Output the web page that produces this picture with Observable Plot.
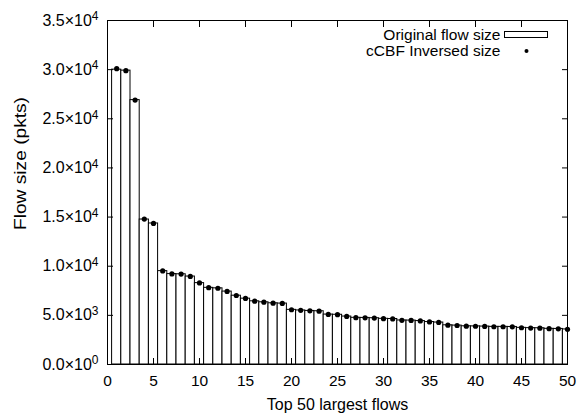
<!DOCTYPE html>
<html>
<head>
<meta charset="utf-8">
<script src="https://cdn.jsdelivr.net/npm/d3@7"></script>
<script src="https://cdn.jsdelivr.net/npm/@observablehq/plot@0.6"></script>
<style>
  body { margin: 0; background: #fff; }
  svg { display: block; }
</style>
</head>
<body>
<div id="chart"></div>
<script>
// Flow rank (1 = largest)
const flowRank = [1,2,3,4,5,6,7,8,9,10,11,12,13,14,15,16,17,18,19,20,21,22,23,24,25,26,27,28,29,30,31,32,33,34,35,36,37,38,39,40,41,42,43,44,45,46,47,48,49,50];
// Original flow size (pkts)
const originalSize = [30000,29900,26900,14750,14350,9500,9200,9180,8950,8280,7800,7750,7420,7000,6700,6430,6330,6230,6200,5560,5500,5450,5420,5080,5060,4880,4750,4740,4710,4650,4630,4480,4470,4420,4320,4270,3990,3960,3890,3880,3860,3830,3830,3820,3730,3700,3690,3630,3620,3570];
// cCBF inversed size (pkts)
const inversedSize = [30100,29900,26900,14800,14350,9520,9220,9200,8960,8300,7820,7760,7440,7020,6720,6440,6340,6240,6210,5570,5510,5460,5430,5090,5070,4890,4760,4750,4720,4660,4640,4490,4480,4430,4330,4280,4000,3970,3900,3890,3870,3840,3840,3830,3740,3710,3700,3640,3630,3580];

const xTicks = [0,5,10,15,20,25,30,35,40,45,50];
const yTicks = [0,5000,10000,15000,20000,25000,30000,35000];
const yTickLabels = ["0.0×10^0","5.0×10^3","1.0×10^4","1.5×10^4","2.0×10^4","2.5×10^4","3.0×10^4","3.5×10^4"];

const xLabel = "Top 50 largest flows";
const yLabel = "Flow size (pkts)";
const legendLabels = ["Original flow size", "cCBF Inversed size"];

const rows = flowRank.map((r, i) => ({rank: r, original: originalSize[i], inversed: inversedSize[i]}));

const FONT = "'Liberation Sans', Arial, Helvetica, sans-serif";

const chart = Plot.plot({
  width: 587,
  height: 413,
  marginLeft: 107,
  marginRight: 20,
  marginTop: 20,
  marginBottom: 49,
  style: {fontFamily: FONT, fontSize: "15px", color: "black", background: "white"},
  x: {domain: [0, 50]},
  y: {domain: [0, 35000]},
  marks: [
    Plot.rectY(rows, {x1: d => d.rank - 0.5, x2: d => d.rank + 0.5, y: "original", fill: "white", stroke: "black", strokeWidth: 1, clip: true}),
    Plot.dot(rows, {x: "rank", y: "inversed", r: 2.6, fill: "black", stroke: null}),
    Plot.frame({stroke: "black", strokeWidth: 1}),
    // inward tick marks on all four sides
    Plot.axisX({ticks: xTicks, anchor: "bottom", tickSize: 6, dy: -6, tickFormat: () => "", label: null}),
    Plot.axisX({ticks: xTicks, anchor: "top", tickSize: 6, dy: 6, tickFormat: () => "", label: null}),
    Plot.axisY({ticks: yTicks, anchor: "left", tickSize: 6, dx: 6, tickFormat: () => "", label: null}),
    Plot.axisY({ticks: yTicks, anchor: "right", tickSize: 6, dx: -6, tickFormat: () => "", label: null}),
    // tick labels
    Plot.axisX({ticks: xTicks, anchor: "bottom", tickSize: 0, tickPadding: 10, label: null, fontSize: 15.5}),
    Plot.axisY({ticks: yTicks, anchor: "left", tickSize: 0, tickPadding: 9, tickFormat: (d) => yTickLabels[yTicks.indexOf(d)], label: null, fontSize: 16}),
    // axis titles
    Plot.text([xLabel], {frameAnchor: "bottom", textAnchor: "middle", lineAnchor: "middle", dy: 40.5, text: d => d, fontSize: 16}),
    Plot.text([yLabel], {frameAnchor: "left", textAnchor: "middle", lineAnchor: "middle", dx: -87, dy: -29, rotate: -90, text: d => d, fontSize: 16, className: "ytitle"}),
    // legend
    Plot.text([legendLabels[0]], {frameAnchor: "top-right", textAnchor: "end", lineAnchor: "middle", dx: -67, dy: 14.5, text: d => d, fontSize: 15.5}),
    Plot.text([legendLabels[1]], {frameAnchor: "top-right", textAnchor: "end", lineAnchor: "middle", dx: -67, dy: 30.5, text: d => d, fontSize: 15.5}),
    Plot.dot([legendLabels[1]], {frameAnchor: "top-right", dx: -41, dy: 30.5, r: 2, fill: "black", stroke: null})
  ]
});

document.getElementById("chart").appendChild(chart);

// superscript exponents on y tick labels
d3.select(chart).selectAll('g[aria-label="y-axis tick label"] text').each(function() {
  const t = d3.select(this);
  const s = t.text();
  if (!s.includes("^")) return;
  const [base, exp] = s.split("^");
  t.text(base);
  t.append("tspan").attr("dy", "-0.45em").attr("font-size", "0.75em").text(exp);
});

// y title: the reference text is stretched along its length
d3.select(chart).selectAll(".ytitle text")
  .attr("textLength", 133).attr("lengthAdjust", "spacingAndGlyphs");

// legend swatch for bars
const svg = d3.select(chart);
svg.append("rect")
  .attr("x", 504.5).attr("y", 31.5).attr("width", 43).attr("height", 6)
  .attr("fill", "white").attr("stroke", "black").attr("stroke-width", 1);
</script>
</body>
</html>
